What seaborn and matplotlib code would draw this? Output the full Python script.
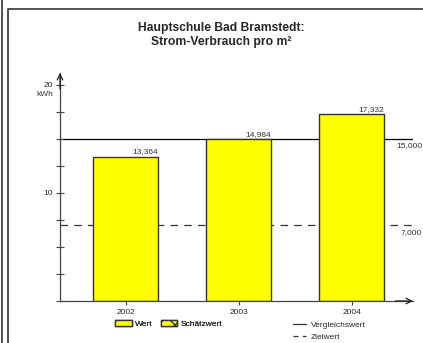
# Strom-Verbrauch pro m2 - bar chart with reference lines

import matplotlib
matplotlib.use("Agg")
import matplotlib.pyplot as plt
from matplotlib.patches import Patch
from matplotlib.lines import Line2D
from matplotlib.ticker import MultipleLocator
import seaborn as sns
import pandas as pd

# data
years = ["2002", "2003", "2004"]
werte = [13.364, 14.984, 17.332]
wert_labels = ["13,364", "14,984", "17,332"]
vergleichswert = 15.0
zielwert = 7.0

sns.set_style("white")
plt.rcParams["font.family"] = ["Liberation Sans", "DejaVu Sans"]

df = pd.DataFrame({"Jahr": years, "Wert": werte})

W, H = 423, 343
fig = plt.figure(figsize=(4.23, 3.43), dpi=100)
ax = fig.add_axes([60 / W, 42 / H, 353 / W, 228 / H])

sns.barplot(data=df, x="Jahr", y="Wert", color="#FFFF00", width=0.58,
            edgecolor="#333333", linewidth=1.0, saturation=1, ax=ax)

ax.set_xlim(-0.58, 2.544)
ax.set_ylim(0, 21.1)

# reference lines
ax.axhline(vergleichswert, color="black", lw=0.9, zorder=0.5)
ax.axhline(zielwert, color="#333333", lw=0.9, ls=(0, (6, 5)), zorder=0.5)
fig.text(422 / W, 1 - 146 / H, "15,000", ha="right", va="center",
         fontsize=6, color="#333333")
fig.text(422 / W, 1 - 233 / H, "7,000", ha="right", va="center",
         fontsize=6, color="#333333")

# value labels, right-aligned to the bar edge
for i, (v, lab) in enumerate(zip(werte, wert_labels)):
    ax.text(i + 0.29, v + 0.1, lab, ha="right", va="bottom", fontsize=6,
            color="#333333")

# axes styling
for s in ["top", "right"]:
    ax.spines[s].set_visible(False)
for s in ["left", "bottom"]:
    ax.spines[s].set_color("#444444")
    ax.spines[s].set_linewidth(0.9)

ax.set_yticks([10, 20])
ax.set_yticklabels(["10", "20"])
ax.yaxis.set_minor_locator(MultipleLocator(2.5))
ax.tick_params(axis="y", which="both", direction="inout", length=6,
               width=0.8, color="#444444", labelsize=6, pad=2, left=True)
ax.tick_params(axis="x", direction="out", length=3, width=0.8,
               color="#444444", labelsize=6, pad=3, bottom=True)
ax.set_xlabel("")
ax.set_ylabel("")
fig.text(53 / W, 1 - 94.5 / H, "kWh", ha="right", va="center",
         fontsize=6, color="#333333")

# axis arrows
ax.annotate("", xy=(0, 1.0), xytext=(0, 0.93), xycoords="axes fraction",
            arrowprops=dict(arrowstyle="->", color="#222222", lw=0.9,
                            shrinkA=0, shrinkB=0))
ax.annotate("", xy=(1.0, 0), xytext=(0.95, 0), xycoords="axes fraction",
            arrowprops=dict(arrowstyle="->", color="#222222", lw=0.9,
                            shrinkA=0, shrinkB=0))

# title
fig.text(221 / W, 1 - 35 / H, "Hauptschule Bad Bramstedt:\nStrom-Verbrauch pro m²",
         ha="center", va="center", fontsize=8.7, fontweight="bold",
         linespacing=1.3)

# legends
h1 = [Patch(facecolor="#FFFF00", edgecolor="#333333", lw=1.0, label="Wert"),
      Patch(facecolor="#FFFF00", edgecolor="#333333", lw=1.0, hatch="xx",
            label="Schätzwert")]
leg1 = fig.legend(handles=h1, loc="upper left", ncol=2, frameon=False,
                  bbox_to_anchor=(115 / W, 1 - 320 / H), fontsize=6,
                  handlelength=2.0, handleheight=0.75, handletextpad=0.45,
                  columnspacing=0.9, borderaxespad=0, borderpad=0)
fig.add_artist(leg1)
h2 = [Line2D([], [], color="#333333", lw=0.9, label="Vergleichswert"),
      Line2D([], [], color="#333333", lw=0.9, ls=(0, (4, 3.5)), label="Zielwert")]
fig.legend(handles=h2, loc="upper left", frameon=False,
           bbox_to_anchor=(293 / W, 1 - 321 / H), fontsize=6,
           handlelength=1.6, handletextpad=0.5, labelspacing=0.55,
           borderaxespad=0, borderpad=0)

# outer frame
fig.add_artist(Line2D([2 / W, 2 / W], [0, 1], transform=fig.transFigure,
                      color="#333333", lw=1.2))
fig.add_artist(Line2D([7.5 / W, 7.5 / W, 1], [0, 1 - 8.5 / H, 1 - 8.5 / H],
                      transform=fig.transFigure, color="#333333", lw=1.2))

fig.savefig("out.png", dpi=100)
